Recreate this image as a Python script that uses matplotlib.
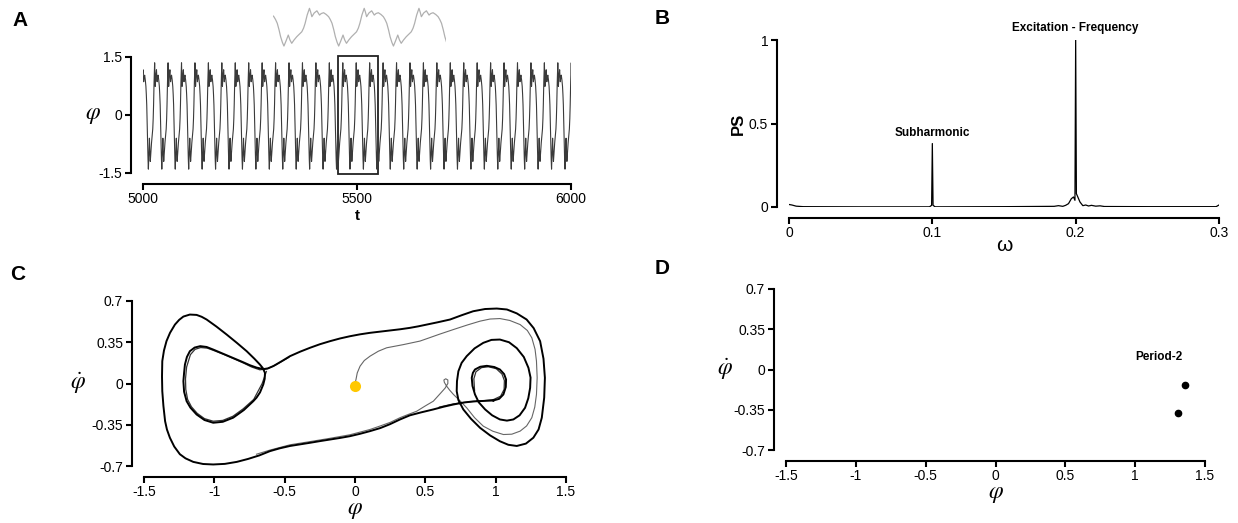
import numpy as np
import matplotlib
matplotlib.use("Agg")
import matplotlib.pyplot as plt
from matplotlib.patches import Rectangle

plt.rcParams['font.family'] = ['Liberation Sans', 'DejaVu Sans']
plt.rcParams['mathtext.fontset'] = 'stix'
plt.rcParams['axes.unicode_minus'] = False

# --- A: one oscillation of phi(t) (phase in cycles, value) ---
cycle_phase = [0.0, 0.037, 0.079, 0.11, 0.142, 0.184, 0.234, 0.276, 0.326, 0.359,
               0.387, 0.424, 0.466, 0.488, 0.510, 0.552, 0.602, 0.626, 0.650, 0.681,
               0.724, 0.773, 0.816, 0.847, 0.878, 0.911, 0.939, 0.972]
cycle_phi = [-1.40, -1.04, -0.60, -0.96, -1.20, -0.96, -0.72, -0.56, -0.36, -0.09,
             0.26, 0.86, 1.35, 1.08, 0.74, 1.01, 1.17, 1.01, 0.86, 0.97,
             1.03, 0.90, 0.74, 0.53, 0.26, -0.23, -0.72, -1.14]
period = 31.4
phase_at_start = 0.6
t_ticks = [5000, 5500, 6000]
phi_ticks = [-1.5, 0, 1.5]
zoom_window = (5455, 5549)

# --- B: power spectrum ---
omega = [0, 0.002, 0.005, 0.01, 0.05, 0.098, 0.0995, 0.1, 0.1005, 0.102, 0.15,
         0.185, 0.188, 0.191, 0.193, 0.195, 0.197, 0.1985, 0.1995, 0.2, 0.2005,
         0.2015, 0.203, 0.205, 0.207, 0.209, 0.211, 0.214, 0.217, 0.22, 0.25, 0.298, 0.3]
ps = [0.015, 0.012, 0.005, 0.002, 0.001, 0.001, 0.01, 0.38, 0.01, 0.001, 0.002,
      0.004, 0.008, 0.004, 0.01, 0.02, 0.05, 0.06, 0.04, 1.0, 0.08,
      0.06, 0.03, 0.008, 0.012, 0.006, 0.01, 0.005, 0.007, 0.003, 0.002, 0.002, 0.012]

# --- C: phase portrait (phi, dphi) ---
attr_phi = [0.984, 0.91, 0.84, 0.77, 0.70, 0.63, 0.557, 0.47, 0.39, 0.32,
            0.249, 0.18, 0.107, 0.035, -0.036, -0.107, -0.178, -0.25, -0.32, -0.39,
            -0.462, -0.535, -0.605, -0.68, -0.76, -0.84, -0.925, -1.008, -1.08, -1.15,
            -1.205, -1.245, -1.285, -1.316, -1.337, -1.35, -1.362, -1.37, -1.372, -1.37,
            -1.358, -1.34, -1.315, -1.28, -1.25, -1.22, -1.174, -1.126, -1.09, -1.055,
            -0.985, -0.913, -0.84, -0.77, -0.715, -0.676, -0.655, -0.64, -0.642, -0.652,
            -0.675, -0.70, -0.723, -0.79, -0.866, -0.94, -1.008, -1.07, -1.126, -1.17,
            -1.197, -1.215, -1.22, -1.215, -1.209, -1.195, -1.174, -1.14, -1.10, -1.055,
            -1.008, -0.94, -0.866, -0.80, -0.747, -0.70, -0.652, -0.62, -0.58, -0.52,
            -0.462, -0.39, -0.32, -0.25, -0.178, -0.107, -0.036, 0.035, 0.107, 0.18,
            0.249, 0.32, 0.39, 0.45, 0.51, 0.59, 0.676, 0.76, 0.84, 0.925,
            1.008, 1.08, 1.15, 1.22, 1.27, 1.316, 1.34, 1.35, 1.345, 1.328,
            1.305, 1.268, 1.215, 1.15, 1.09, 1.03, 0.96, 0.889, 0.825, 0.77,
            0.735, 0.723, 0.725, 0.735, 0.758, 0.794, 0.85, 0.912, 0.97, 1.03,
            1.095, 1.15, 1.2, 1.233, 1.248, 1.245, 1.232, 1.209, 1.17, 1.126,
            1.08, 1.03, 0.975, 0.925, 0.88, 0.853, 0.835, 0.83, 0.838, 0.853,
            0.89, 0.937, 0.99, 1.03, 1.06, 1.074, 1.072, 1.055, 1.025, 0.984]
attr_dphi = [-0.144, -0.148, -0.152, -0.162, -0.178, -0.197, -0.22, -0.245, -0.27, -0.305,
             -0.345, -0.378, -0.404, -0.427, -0.447, -0.462, -0.475, -0.489, -0.503, -0.516,
             -0.53, -0.55, -0.574, -0.61, -0.64, -0.665, -0.682, -0.687, -0.683, -0.665,
             -0.635, -0.60, -0.535, -0.46, -0.39, -0.32, -0.19, -0.065, 0.06, 0.19,
             0.28, 0.36, 0.43, 0.50, 0.54, 0.568, 0.585, 0.582, 0.566, 0.543,
             0.483, 0.416, 0.345, 0.274, 0.21, 0.161, 0.13, 0.09, 0.04, -0.008,
             -0.075, -0.12, -0.15, -0.225, -0.29, -0.325, -0.333, -0.31, -0.263, -0.205,
             -0.15, -0.07, 0.02, 0.09, 0.161, 0.225, 0.274, 0.305, 0.317, 0.31,
             0.288, 0.254, 0.218, 0.183, 0.155, 0.135, 0.122, 0.128, 0.148, 0.19,
             0.232, 0.27, 0.303, 0.333, 0.359, 0.382, 0.401, 0.417, 0.43, 0.44,
             0.45, 0.46, 0.472, 0.485, 0.50, 0.52, 0.543, 0.58, 0.613, 0.632,
             0.636, 0.628, 0.595, 0.543, 0.47, 0.359, 0.21, 0.048, -0.12, -0.29,
             -0.39, -0.46, -0.51, -0.53, -0.52, -0.49, -0.44, -0.376, -0.30, -0.22,
             -0.14, -0.065, 0.02, 0.104, 0.175, 0.232, 0.298, 0.345, 0.37, 0.373,
             0.35, 0.30, 0.225, 0.133, 0.05, -0.037, -0.125, -0.206, -0.27, -0.305,
             -0.315, -0.305, -0.27, -0.22, -0.16, -0.093, -0.02, 0.048, 0.09, 0.119,
             0.142, 0.15, 0.14, 0.119, 0.08, 0.034, -0.03, -0.093, -0.13, -0.144]
# neighbouring strands of the left inner loop and the right spiral
left_strand_phi = [-0.63, -0.66, -0.72, -0.795, -0.868, -0.94, -1.008, -1.07, -1.122, -1.163,
                   -1.19, -1.203, -1.205, -1.197, -1.17, -1.137, -1.097, -1.05, -1.0, -0.93,
                   -0.858, -0.79, -0.735, -0.676, -0.62, -0.56, -0.47]
left_strand_dphi = [0.102, 0.0, -0.135, -0.215, -0.278, -0.313, -0.32, -0.298, -0.253, -0.197,
                    -0.135, -0.05, 0.04, 0.14, 0.245, 0.29, 0.305, 0.3, 0.278, 0.245,
                    0.208, 0.172, 0.14, 0.116, 0.126, 0.16, 0.222]
right_strand_phi = [0.85, 0.845, 0.86, 0.90, 0.95, 1.005, 1.045, 1.062, 1.06, 1.035,
                    0.985, 0.90, 0.80, 0.70, 0.60]
right_strand_dphi = [-0.06, 0.04, 0.1, 0.135, 0.142, 0.125, 0.08, 0.025, -0.05, -0.108,
                     -0.136, -0.148, -0.157, -0.173, -0.20]
trans_phi = [0.0, 0.002, 0.007, 0.016, 0.036, 0.066, 0.107, 0.166, 0.225, 0.344,
             0.462, 0.51, 0.60, 0.70, 0.80, 0.889, 0.96, 1.03, 1.10, 1.174,
             1.225, 1.257, 1.28, 1.29, 1.295, 1.29, 1.278, 1.257, 1.22, 1.174,
             1.115, 1.055, 0.98, 0.912, 0.85, 0.794, 0.745, 0.70, 0.672, 0.65,
             0.635, 0.632, 0.645, 0.66, 0.66, 0.64, 0.61, 0.557, 0.50, 0.439,
             0.38, 0.32, 0.25, 0.18, 0.107, -0.036, -0.178, -0.32, -0.462, -0.605,
             -0.70]
trans_dphi = [-0.02, 0.01, 0.034, 0.09, 0.147, 0.195, 0.232, 0.274, 0.303, 0.33,
              0.36, 0.38, 0.418, 0.458, 0.497, 0.529, 0.547, 0.551, 0.535, 0.50,
              0.45, 0.388, 0.29, 0.19, 0.05, -0.093, -0.2, -0.29, -0.36, -0.404,
              -0.43, -0.433, -0.405, -0.362, -0.29, -0.206, -0.145, -0.093, -0.055, -0.02,
              0.01, 0.03, 0.04, 0.03, 0.0, -0.04, -0.08, -0.15, -0.19, -0.235,
              -0.262, -0.29, -0.33, -0.36, -0.39, -0.435, -0.465, -0.493, -0.52, -0.565,
              -0.60]
start_point = (0.0, -0.02)
phase_xticks = [-1.5, -1, -0.5, 0, 0.5, 1, 1.5]
phase_yticks = [-0.7, -0.35, 0, 0.35, 0.7]

# --- D: Poincare section ---
poincare_phi = [1.36, 1.31]
poincare_dphi = [-0.131, -0.379]

W, H = 1238, 523


def px_axes(x0, y0, x1, y1):
    """axes rectangle from pixel corners (top-left origin)"""
    return [x0 / W, 1 - y1 / H, (x1 - x0) / W, (y1 - y0) / H]


def style_axes(ax, xb, yb, xticks, yticks, xlabels, ylabels):
    for s in ['top', 'right']:
        ax.spines[s].set_visible(False)
    ax.spines['left'].set_position(('outward', 9))
    ax.spines['bottom'].set_position(('outward', 8))
    ax.spines['left'].set_bounds(*yb)
    ax.spines['bottom'].set_bounds(*xb)
    for s in ['left', 'bottom']:
        ax.spines[s].set_linewidth(1.5)
    ax.tick_params(width=1.5, length=4, labelsize=10, pad=2, color='black')
    ax.set_xticks(xticks)
    ax.set_xticklabels(xlabels)
    ax.set_yticks(yticks)
    ax.set_yticklabels(ylabels)
    ax.patch.set_visible(False)


fig = plt.figure(figsize=(W / 100, H / 100), dpi=100)

# A: time series
t_vals, phi_vals = [], []
for k in range(0, 33):
    for p, v in zip(cycle_phase, cycle_phi):
        t_vals.append(5000 + (k + p - phase_at_start) * period)
        phi_vals.append(v)
axA = fig.add_axes(px_axes(143, 57, 571, 173))
axA.plot(t_vals, phi_vals, color='#3a3a3a', lw=0.8)
axA.set_xlim(5000, 6000)
axA.set_ylim(-1.5, 1.5)
axA.add_patch(Rectangle((zoom_window[0], -1.53), zoom_window[1] - zoom_window[0], 3.06,
                        fill=False, ec='#222222', lw=1.3, clip_on=False))
style_axes(axA, (5000, 6000), (-1.5, 1.5), t_ticks, phi_ticks,
           [str(v) for v in t_ticks], ['-1.5', '0', '1.5'])
axA.set_xlabel('t', fontsize=11, fontweight='bold', labelpad=2)
axA.set_ylabel(r'$\varphi$', fontsize=17, rotation=0, labelpad=4, va='center')

# A inset: magnified oscillations
inset_x, inset_y = [], []
for k in range(-1, 4):
    for p, v in zip(cycle_phase, cycle_phi):
        inset_x.append(k + p)
        inset_y.append(v)
axI = fig.add_axes(px_axes(273, 3, 446, 50))
axI.plot(inset_x, inset_y, color='#b0b0b0', lw=0.9)
axI.set_xlim(-0.2, 2.96)
axI.set_ylim(-1.69, 1.74)
axI.axis('off')

# B: spectrum
axB = fig.add_axes(px_axes(789, 40, 1219, 207))
axB.plot(omega, ps, color='black', lw=0.9)
axB.set_xlim(0, 0.3)
axB.set_ylim(0, 1)
style_axes(axB, (0, 0.3), (0, 1), [0, 0.1, 0.2, 0.3], [0, 0.5, 1],
           ['0', '0.1', '0.2', '0.3'], ['0', '0.5', '1'])
axB.set_xlabel('ω', fontsize=15, labelpad=-3)
axB.set_ylabel('PS', fontsize=12, fontweight='bold', labelpad=2)
axB.text(0.1, 0.41, 'Subharmonic', ha='center', va='bottom', fontsize=8.5, fontweight='bold')
axB.text(0.2, 1.035, 'Excitation - Frequency', ha='center', va='bottom', fontsize=8.5,
         fontweight='bold', clip_on=False)

# C: phase portrait
axC = fig.add_axes(px_axes(144, 301, 566, 466))
axC.plot(trans_phi, trans_dphi, color='#666666', lw=0.8)
axC.plot(left_strand_phi, left_strand_dphi, color='#333333', lw=0.9)
axC.plot(right_strand_phi, right_strand_dphi, color='#333333', lw=0.9)
axC.plot(attr_phi, attr_dphi, color='black', lw=1.4)
axC.plot(*start_point, 'o', color='#FFC800', ms=8, mec='none')
axC.set_xlim(-1.5, 1.5)
axC.set_ylim(-0.7, 0.7)
xl = ['-1.5', '-1', '-0.5', '0', '0.5', '1', '1.5']
yl = ['-0.7', '-0.35', '0', '0.35', '0.7']
style_axes(axC, (-1.5, 1.5), (-0.7, 0.7), phase_xticks, phase_yticks, xl, yl)
axC.set_xlabel(r'$\varphi$', fontsize=17, labelpad=0)
axC.set_ylabel(r'$\dot{\varphi}$', fontsize=17, rotation=0, labelpad=10, va='center')

# D: Poincare section
axD = fig.add_axes(px_axes(786, 289, 1205, 450))
axD.plot(poincare_phi, poincare_dphi, 'o', color='black', ms=4.5)
axD.set_xlim(-1.5, 1.5)
axD.set_ylim(-0.7, 0.7)
style_axes(axD, (-1.5, 1.5), (-0.7, 0.7), phase_xticks, phase_yticks, xl, yl)
axD.set_xlabel(r'$\varphi$', fontsize=17, labelpad=0)
axD.set_ylabel(r'$\dot{\varphi}$', fontsize=17, rotation=0, labelpad=6, va='center')
axD.text(1.17, 0.11, 'Period-2', ha='center', va='center', fontsize=8.5, fontweight='bold')

# panel letters
for letter, x, y in [('A', 20, 21), ('B', 662, 18), ('C', 18, 275), ('D', 662, 268)]:
    fig.text(x / W, 1 - y / H, letter, fontsize=15, fontweight='bold', ha='center', va='center')

fig.savefig('out.png', dpi=100)
